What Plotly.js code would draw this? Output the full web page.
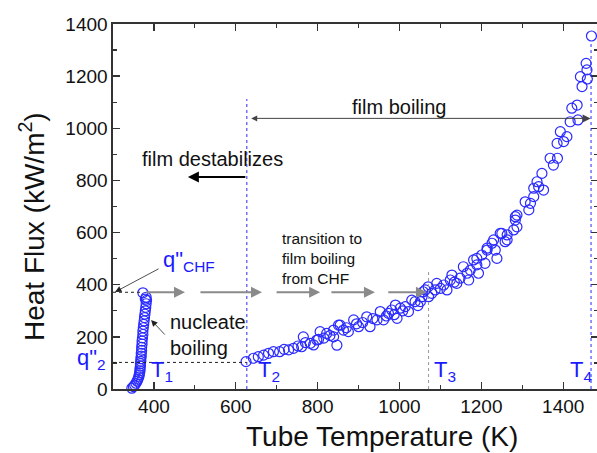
<!DOCTYPE html>
<html><head><meta charset="utf-8">
<script src="https://cdn.plot.ly/plotly-3.0.1.min.js"></script>
<style>html,body{margin:0;padding:0;overflow:hidden;background:#fff}#chart{width:600px;height:453px}</style>
</head><body><div id="chart"></div>
<script>
// Nucleate boiling points (tube temperature K, heat flux kW/m2)
const nucleateT = [346,350,353,356,359,361,363,364,365,366,366,367,367,368,368,369,369,370,370,371,371,372,373,373,374,375,376,377,378,379,380,381,382,381,379,373];
const nucleateQ = [3,9,15,22,30,38,46,54,62,70,79,88,97,106,116,126,137,148,160,172,184,196,209,222,235,248,261,274,287,300,313,327,340,352,345,369];
// Film boiling points
const filmT = [625,643,655,668,680,692,707,718,729,741,752,761,765,770,782,790,798,802,806,815,822,830,839,839,847,851,855,863,870,875,888,895,900,910,920,928,935,945,953,961,968,973,981,987,990,994,1002,1008,1014,1022,1030,1038,1045,1051,1055,1058,1063,1070,1071,1079,1087,1091,1100,1108,1116,1124,1128,1134,1140,1148,1156,1165,1169,1173,1181,1189,1189,1193,1201,1209,1214,1214,1226,1230,1234,1238,1246,1250,1258,1263,1263,1279,1283,1283,1287,1287,1307,1316,1320,1328,1328,1336,1340,1348,1352,1368,1376,1385,1386,1393,1401,1409,1417,1421,1434,1436,1442,1446,1456,1458,1459,1469];
const filmQ = [105,118,124,130,137,143,143,152,150,156,165,162,200,178,175,169,188,190,220,195,213,205,200,226,168,245,245,226,235,220,265,250,239,255,277,239,270,265,297,265,280,290,303,285,322,271,310,300,316,297,341,335,320,335,354,373,380,392,354,367,380,405,386,399,380,418,437,410,405,425,469,444,418,456,495,476,501,444,514,482,533,540,559,572,533,501,597,597,565,591,572,610,661,648,622,667,718,687,712,770,738,795,776,827,763,885,859,942,885,987,949,968,1025,1077,1089,1032,1198,1160,1249,1224,1189,1354];
const xTickVals = [400,600,800,1000,1200,1400];
const yTickVals = [0,200,400,600,800,1000,1200,1400];
// characteristic points
const qCHF = 371, q2 = 102, T2 = 627, T3 = 1071, T4 = 1468, T1end = 373;

const blue = '#2a2aff';
const traces = [
  {x: nucleateT, y: nucleateQ, type:'scatter', mode:'markers', marker:{symbol:'circle-open', size:10, color:blue, line:{width:1.2, color:blue}}, cliponaxis:false},
  {x: filmT, y: filmQ, type:'scatter', mode:'markers', marker:{symbol:'circle-open', size:10, color:blue, line:{width:1.2, color:blue}}, cliponaxis:false}
];

const font = 'Arial, "Liberation Sans", sans-serif';
function arrow(x, y, ax, ay, color, w, head, size, extra){
  return Object.assign({x:x, y:y, ax:ax, ay:ay, xref:'x', yref:'y', axref:'x', ayref:'y', text:'', showarrow:true,
    arrowcolor:color, arrowwidth:w, arrowhead:head, arrowsize:size, standoff:0, startstandoff:0}, extra||{});
}
const px2x = p => (p-113)/485, px2y = p => (389-p)/365;
const gray = '#8a8a8a';
const tblue = '#1a1aff';
function blueLabel(text, px, py, xanchor, yanchor){
  return {x:px2x(px), y:px2y(py), xref:'paper', yref:'paper', xanchor:xanchor, yanchor:yanchor, text:text, showarrow:false, font:{size:22, color:tblue, family:font}};
}
const annotations = [
  {x:px2x(382), y:px2y(437), xref:'paper', yref:'paper', xanchor:'center', yanchor:'middle', text:'Tube Temperature (K)', showarrow:false, font:{size:28, color:'#111', family:font}},
  {x:px2x(32), y:px2y(227), xref:'paper', yref:'paper', xanchor:'center', yanchor:'middle', text:'Heat Flux (kW/m<sup>2</sup>)', textangle:-90, showarrow:false, font:{size:28, color:'#111', family:font}},
  {x:999, y:1082, xref:'x', yref:'y', text:'film boiling', showarrow:false, font:{size:20, color:'#111', family:font}},
  {x:542, y:882, xref:'x', yref:'y', text:'film destabilizes', showarrow:false, font:{size:20, color:'#111', family:font}},
  {x:708, y:499, xref:'x', yref:'y', text:'transition to<br>film boiling<br>from CHF', align:'left', xanchor:'left', showarrow:false, font:{size:15.5, color:'#111', family:font}},
  {x:434, y:208, xref:'x', yref:'y', text:'nucleate<br>boiling', align:'left', xanchor:'left', showarrow:false, font:{size:20, color:'#111', family:font}},
  blueLabel('q"<sub>CHF</sub>', 161, 261, 'left', 'middle'),
  blueLabel('q"<sub>2</sub>', 108, 375, 'right', 'bottom'),
  blueLabel('T<sub>1</sub>', 149, 387, 'left', 'bottom'),
  blueLabel('T<sub>2</sub>', 256, 387, 'left', 'bottom'),
  blueLabel('T<sub>3</sub>', 432, 387, 'left', 'bottom'),
  blueLabel('T<sub>4</sub>', 568, 387, 'left', 'bottom'),
  // gray transition arrows
  arrow(476, qCHF, 378, qCHF, gray, 2.2, 2, 1),
  arrow(664, qCHF, 510, qCHF, gray, 2.2, 2, 1),
  arrow(806, qCHF, 696, qCHF, gray, 2.2, 2, 1),
  arrow(940, qCHF, 830, qCHF, gray, 2.2, 2, 1),
  arrow(1067, qCHF, 969, qCHF, gray, 2.2, 2, 1),
  // film destabilizes arrow
  arrow(483, 813, T2, 813, '#000', 2, 2, 1.1),
  // film boiling range arrow
  arrow(T4-1, 1038, 634, 1038, '#444', 1, 2, 1.6, {arrowside:'end+start', startarrowhead:2, startarrowsize:1.2}),
  // pointers
  arrow(305, 372, 415, 464, '#222', 0.8, 2, 1.6),
  arrow(393, 265, 430, 203, '#222', 0.8, 2, 1.6)
];

const shapes = [
  {type:'line', xref:'x', yref:'y', x0:T2, x1:T2, y0:0, y1:1112, line:{color:'#2a2aff', width:1, dash:'dot'}},
  {type:'line', xref:'x', yref:'y', x0:T4, x1:T4, y0:0, y1:1335, line:{color:'#2a2aff', width:1, dash:'dot'}},
  {type:'line', xref:'x', yref:'y', x0:T3, x1:T3, y0:0, y1:456, line:{color:'#999', width:1, dash:'dot'}},
  {type:'line', xref:'x', yref:'y', x0:300, x1:T1end, y0:qCHF, y1:qCHF, line:{color:'#222', width:1, dash:'dot'}},
  {type:'line', xref:'x', yref:'y', x0:300, x1:T2, y0:q2, y1:q2, line:{color:'#222', width:1, dash:'dot'}}
];

const axisCommon = {showgrid:false, zeroline:false, showline:true, linecolor:'#333', linewidth:1.6, mirror:'ticks',
  ticks:'inside', ticklen:7, tickwidth:1.4, tickcolor:'#333', tickfont:{size:19, color:'#111', family:font}};

const layout = {
  width:600, height:453,
  margin:{l:113, r:2, t:24, b:64},
  paper_bgcolor:'#fff', plot_bgcolor:'#fff',
  showlegend:false,
  font:{family:font},
  xaxis: Object.assign({}, axisCommon, {range:[300,1485], tickvals:xTickVals, ticktext:xTickVals.map(String),
    minor:{dtick:100, tick0:0, ticks:'inside', ticklen:4, tickwidth:1.2, tickcolor:'#333'}}),
  yaxis: Object.assign({}, axisCommon, {range:[0,1400], tickvals:yTickVals, ticktext:yTickVals.map(String),
    minor:{dtick:100, tick0:0, ticks:'inside', ticklen:4, tickwidth:1.2, tickcolor:'#333'}}),
  annotations: annotations,
  shapes: shapes
};
Plotly.newPlot('chart', traces, layout, {displayModeBar:false, staticPlot:true});
</script></body></html>
